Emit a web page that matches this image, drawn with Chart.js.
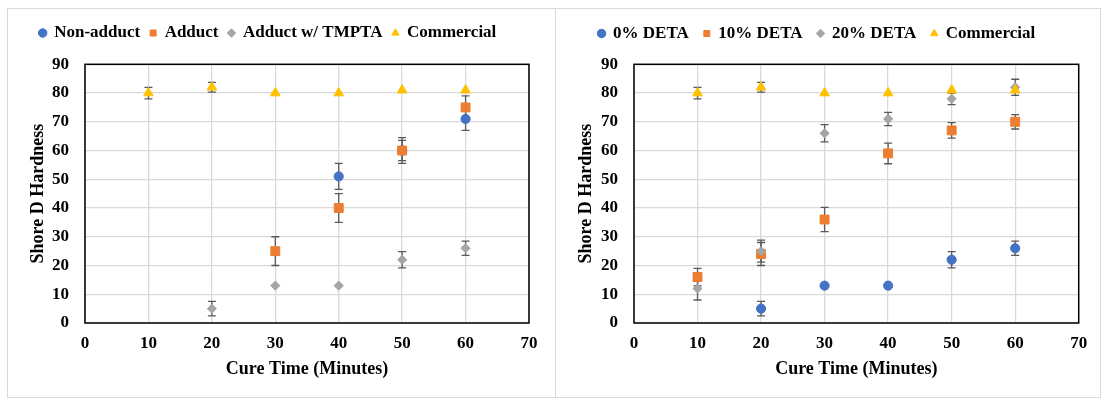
<!DOCTYPE html>
<html>
<head>
<meta charset="utf-8">
<script src="https://cdn.jsdelivr.net/npm/chart.js@4.4.0/dist/chart.umd.min.js"></script>
<style>
  body { margin: 0; background: #fff; width: 1103px; height: 403px; overflow: hidden; position: relative; }
  .frame { position: absolute; box-sizing: border-box; border: 1px solid #d9d9d9; }
  canvas { position: absolute; }
</style>
</head>
<body>
<div class="frame" style="left:7px;top:8px;width:549px;height:390px"></div>
<div class="frame" style="left:555px;top:8px;width:546px;height:390px"></div>
<canvas id="adductChart" width="548" height="390" style="left:7px;top:8px"></canvas>
<canvas id="detaChart" width="546" height="390" style="left:555px;top:8px"></canvas>
<script>
// Cure times (minutes) shared by every series
const cureTime = [10, 20, 30, 40, 50, 60];
const xTickValues = [0, 10, 20, 30, 40, 50, 60, 70];
const yTickValues = [0, 10, 20, 30, 40, 50, 60, 70, 80, 90];

// Shore D hardness and standard deviations, adduct study
const nonAdduct       = [null, null, null, 51, 60, 71];
const nonAdductErr    = [null, null, null, 4.5, 4.5, 4];
const adduct          = [null, null, 25, 40, 60, 75];
const adductErr       = [null, null, 5, 5, 3.5, 4];
const adductTmpta     = [null, 5, 13, 13, 22, 26];
const adductTmptaErr  = [null, 2.5, null, null, 2.8, 2.5];
const commercialA     = [80, 82, 80, 80, 81, 81];
const commercialAErr  = [2, 1.7, null, null, null, null];

// Shore D hardness and standard deviations, DETA study
const deta0           = [null, 5, 13, 13, 22, 26];
const deta0Err        = [null, 2.5, null, null, 2.8, 2.5];
const deta10          = [16, 24, 36, 59, 67, 70];
const deta10Err       = [3, 4, 4.2, 3.6, 2.7, 2.5];
const deta20          = [12, 25, 66, 71, 78, 82];
const deta20Err       = [4, 3.8, 3, 2.3, 2, 2.8];
const commercialB     = [80, 82, 80, 80, 81, 81];
const commercialBErr  = [2, 1.7, null, null, null, null];

// Marker styles (Office palette)
const markerStyles = [
  { color: '#4472C4', shape: 'circle',   radius: 4.6 },
  { color: '#ED7D31', shape: 'rect',     radius: 6.3 },
  { color: '#A5A5A5', shape: 'rectRot',  radius: 4.6 },
  { color: '#FFC000', shape: 'triangle', radius: 5.6 }
];

const FONT = "'Liberation Serif', 'Times New Roman', serif";

// Vertical error bars with caps, drawn under the markers
const errorBars = {
  id: 'errorBars',
  beforeDatasetsDraw(chart) {
    const { ctx, scales: { x, y } } = chart;
    ctx.save();
    ctx.strokeStyle = '#595959';
    ctx.lineWidth = 1.3;
    chart.data.datasets.forEach((ds, i) => {
      if (!chart.isDatasetVisible(i)) return;
      ds.data.forEach(p => {
        if (!p.err) return;
        const px = x.getPixelForValue(p.x);
        const top = y.getPixelForValue(p.y + p.err);
        const bot = y.getPixelForValue(p.y - p.err);
        ctx.beginPath();
        ctx.moveTo(px, top); ctx.lineTo(px, bot);
        ctx.moveTo(px - 4, top); ctx.lineTo(px + 4, top);
        ctx.moveTo(px - 4, bot); ctx.lineTo(px + 4, bot);
        ctx.stroke();
      });
    });
    ctx.restore();
  }
};

// Black box around the plot area
const plotFrame = {
  id: 'plotFrame',
  beforeDatasetsDraw(chart) {
    const { ctx, chartArea: a } = chart;
    ctx.save();
    ctx.strokeStyle = '#000';
    ctx.lineWidth = 1.5;
    ctx.strokeRect(a.left, a.top, a.right - a.left, a.bottom - a.top);
    ctx.restore();
  }
};

// Extra room between the legend row and the plot
const legendGap = {
  id: 'legendGap',
  beforeInit(chart, args, opts) {
    if (!chart.legend) return;
    const fit = chart.legend.fit;
    chart.legend.fit = function () {
      fit.call(this);
      this.height += opts.gap || 0;
    };
  }
};

function buildChart(canvasId, series, cfg) {
  const datasets = series.map((s, i) => {
    const st = markerStyles[i];
    return {
      label: s.label,
      data: cureTime
        .map((t, j) => ({ x: t, y: s.values[j], err: s.errors[j] }))
        .filter(p => p.y !== null),
      pointStyle: st.shape,
      pointRadius: st.radius,
      pointHoverRadius: st.radius,
      backgroundColor: st.color,
      borderColor: st.color,
      borderWidth: 1,
      order: -i
    };
  });

  return new Chart(document.getElementById(canvasId), {
    type: 'scatter',
    data: { datasets },
    plugins: [errorBars, plotFrame, legendGap],
    options: {
      responsive: false,
      animation: false,
      layout: { padding: cfg.padding },
      plugins: {
        tooltip: { enabled: false },
        legendGap: { gap: cfg.legendGap },
        legend: {
          position: 'top',
          labels: {
            usePointStyle: true,
            boxWidth: 6,
            boxHeight: 6,
            padding: cfg.legendPad,
            color: '#000',
            font: { family: FONT, size: 17, weight: 'bold' },
            sort: (a, b) => a.datasetIndex - b.datasetIndex
          }
        }
      },
      scales: {
        x: {
          type: 'linear',
          min: 0,
          max: 70,
          afterBuildTicks: s => { s.ticks = xTickValues.map(v => ({ value: v })); },
          afterFit: s => { s.height = 75; },
          grid: { color: '#d9d9d9', lineWidth: 1.3, drawTicks: false },
          border: { display: false },
          ticks: { color: '#000', padding: 10, maxRotation: 0, font: { family: FONT, size: 17, weight: 'bold' } },
          title: {
            display: true,
            text: 'Cure Time (Minutes)',
            color: '#000',
            font: { family: FONT, size: 18, weight: 'bold' },
            padding: { top: 0, bottom: 18 }
          }
        },
        y: {
          type: 'linear',
          min: 0,
          max: 90,
          afterBuildTicks: s => { s.ticks = yTickValues.map(v => ({ value: v })); },
          afterFit: s => { s.width = cfg.yWidth; },
          grid: { color: '#d9d9d9', lineWidth: 1.3, drawTicks: false },
          border: { display: false },
          ticks: { color: '#000', padding: 16, font: { family: FONT, size: 17, weight: 'bold' } },
          title: {
            display: true,
            text: 'Shore D Hardness',
            color: '#000',
            font: { family: FONT, size: 18, weight: 'bold' },
            padding: { top: cfg.yTitlePad, bottom: 0 }
          }
        }
      }
    }
  });
}

buildChart('adductChart', [
  { label: 'Non-adduct',      values: nonAdduct,   errors: nonAdductErr },
  { label: 'Adduct',          values: adduct,      errors: adductErr },
  { label: 'Adduct w/ TMPTA', values: adductTmpta, errors: adductTmptaErr },
  { label: 'Commercial',      values: commercialA, errors: commercialAErr }
], { padding: { left: 0, right: 26, top: 6.5, bottom: 0 }, legendPad: 10, legendGap: 12.8, yWidth: 78, yTitlePad: 21 });

buildChart('detaChart', [
  { label: '0% DETA',    values: deta0,       errors: deta0Err },
  { label: '10% DETA',   values: deta10,      errors: deta10Err },
  { label: '20% DETA',   values: deta20,      errors: deta20Err },
  { label: 'Commercial', values: commercialB, errors: commercialBErr }
], { padding: { left: 0, right: 22.3, top: 2, bottom: 0 }, legendPad: 15, legendGap: 12.3, yWidth: 79, yTitlePad: 21 });
</script>
</body>
</html>
